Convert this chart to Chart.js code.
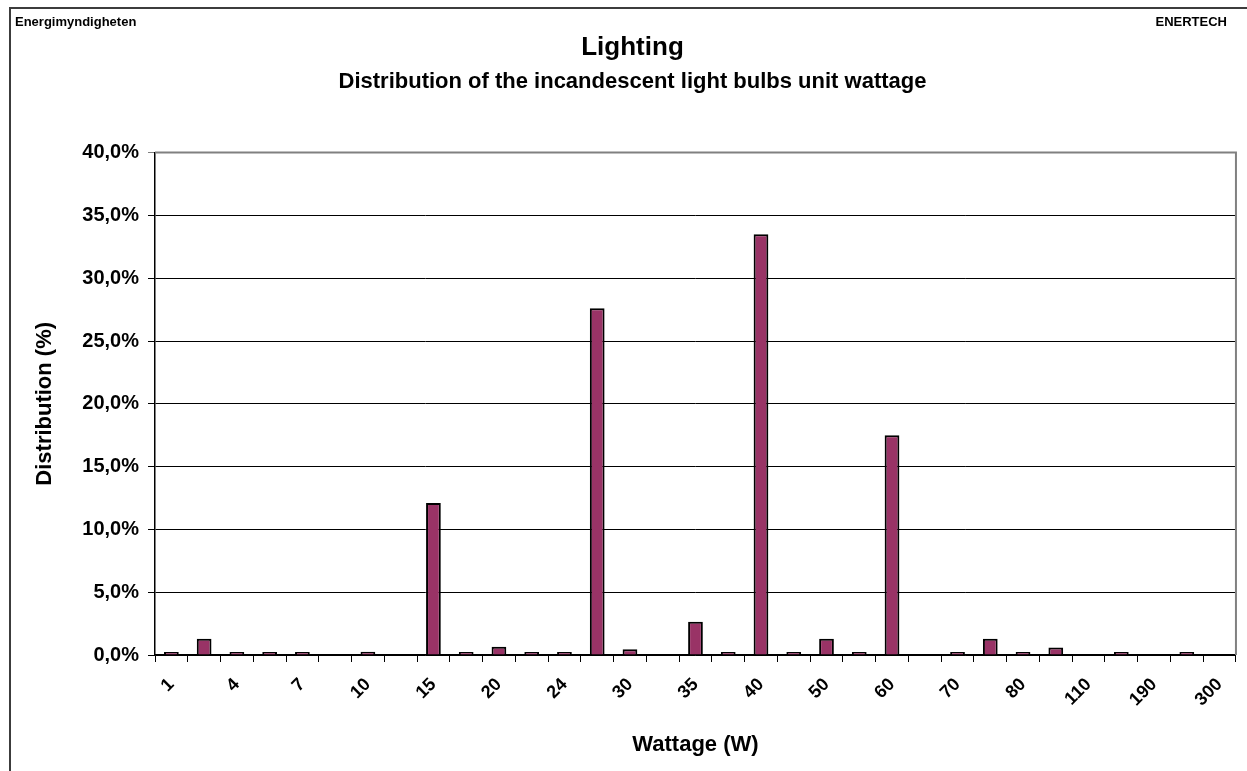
<!DOCTYPE html>
<html>
<head>
<meta charset="utf-8">
<title>Lighting - incandescent bulbs unit wattage</title>
<script src="https://cdn.jsdelivr.net/npm/chart.js@4.4.1/dist/chart.umd.min.js"></script>
<style>
  html, body { margin: 0; padding: 0; background: #fff; }
  #wrap { position: relative; width: 1247px; height: 771px; }
</style>
</head>
<body>
<div id="wrap"><canvas id="wattage-chart" width="1247" height="771"></canvas></div>
<script>
// wattage classes (W) - the axis only labels every other one
const wattages = ['1', '3', '4', '5', '7', '8', '10', '11', '15', '18', '20', '22', '24', '25', '30', '32',
    '35', '36', '40', '45', '50', '55', '60', '65', '70', '75', '80', '100', '110', '150', '190', '200', '300'];
// share of the bulbs in each class (%)
const shares = [0.05, 1.3, 0.05, 0.05, 0.1, 0, 0.25, 0, 12.1, 0.05, 0.65, 0.15, 0.05, 27.6, 0.45, 0,
    2.65, 0.05, 33.5, 0.05, 1.3, 0.2, 17.5, 0, 0.05, 1.3, 0.05, 0.6, 0, 0.05, 0, 0.05, 0];
const yTicks = [0, 5, 10, 15, 20, 25, 30, 35, 40];

const FONT = 'Arial, "Liberation Sans", sans-serif';

// outer frame + the two corner captions of the Excel sheet
const framePlugin = {
    id: 'frame',
    beforeDraw: function(chart) {
        const ctx = chart.ctx;
        ctx.save();
        ctx.fillStyle = '#fff';
        ctx.fillRect(0, 0, chart.width, chart.height);
        ctx.strokeStyle = '#3c3c3c';
        ctx.lineWidth = 2;
        ctx.beginPath();
        ctx.moveTo(10, chart.height);
        ctx.lineTo(10, 8);
        ctx.lineTo(chart.width, 8);
        ctx.stroke();
        ctx.fillStyle = '#000';
        ctx.font = 'bold 13px ' + FONT;
        ctx.textBaseline = 'middle';
        ctx.textAlign = 'left';
        ctx.fillText('Energimyndigheten', 15, 22);
        ctx.textAlign = 'right';
        ctx.fillText('ENERTECH', 1227, 22);
        ctx.restore();
    },
    beforeDatasetsDraw: function(chart) {
        // grey plot-area border on top and right
        const a = chart.chartArea;
        const ctx = chart.ctx;
        ctx.save();
        ctx.strokeStyle = '#808080';
        ctx.lineWidth = 2;
        ctx.beginPath();
        ctx.moveTo(a.left, a.top);
        ctx.lineTo(a.right, a.top);
        ctx.lineTo(a.right, a.bottom);
        ctx.stroke();
        ctx.restore();
    }
};

Chart.defaults.font.family = FONT;
Chart.defaults.color = '#000';

const ctx = document.getElementById('wattage-chart').getContext('2d');
window.wattageChart = new Chart(ctx, {
    type: 'bar',
    data: {
        labels: wattages,
        datasets: [{
            label: 'Distribution (%)',
            data: shares.map(v => v > 0 ? v : null),
            backgroundColor: '#993366',
            borderColor: '#000',
            borderWidth: 2,
            minBarLength: 3,
            barPercentage: 0.45,
            categoryPercentage: 1
        }]
    },
    options: {
        responsive: false,
        animation: false,
        devicePixelRatio: 1,
        layout: { padding: { top: 0, left: 28, right: 10, bottom: 0 } },
        plugins: {
            legend: { display: false },
            tooltip: { enabled: false },
            title: {
                display: true,
                text: 'Lighting',
                color: '#000',
                font: { size: 26, weight: 'bold' },
                padding: { top: 32, bottom: 4 }
            },
            subtitle: {
                display: true,
                text: 'Distribution of the incandescent light bulbs unit wattage',
                color: '#000',
                font: { size: 22, weight: 'bold' },
                padding: { top: 2, bottom: 57 }
            }
        },
        scales: {
            x: {
                afterFit: function(scale) { scale.height = 116; },
                grid: { offset: true, drawOnChartArea: false, drawTicks: true, tickLength: 7, color: '#000' },
                border: { color: '#000', width: 1.5 },
                ticks: {
                    autoSkip: false,
                    maxRotation: 45,
                    minRotation: 45,
                    padding: 12,
                    font: { size: 18, weight: 'bold' },
                    callback: (val, i) => i % 2 === 0 ? wattages[i] : ''
                },
                title: {
                    display: true,
                    text: 'Wattage (W)',
                    font: { size: 22, weight: 'bold' },
                    padding: { top: 0, bottom: 13 }
                }
            },
            y: {
                min: yTicks[0],
                max: yTicks[yTicks.length - 1],
                afterFit: function(scale) { scale.width = 127; },
                afterBuildTicks: function(scale) { scale.ticks = yTicks.map(v => ({ value: v })); },
                grid: {
                    color: c => c.tick && c.tick.value === 40 ? '#808080' : '#000',
                    tickLength: 7
                },
                border: { color: '#000', width: 1.5 },
                ticks: {
                    padding: 9,
                    font: { size: 20, weight: 'bold' },
                    callback: v => v.toFixed(1).replace('.', ',') + '%'
                },
                title: {
                    display: true,
                    text: 'Distribution (%)',
                    font: { size: 22, weight: 'bold' },
                    padding: { top: 4, bottom: 4 }
                }
            }
        }
    },
    plugins: [framePlugin]
});
</script>
</body>
</html>
